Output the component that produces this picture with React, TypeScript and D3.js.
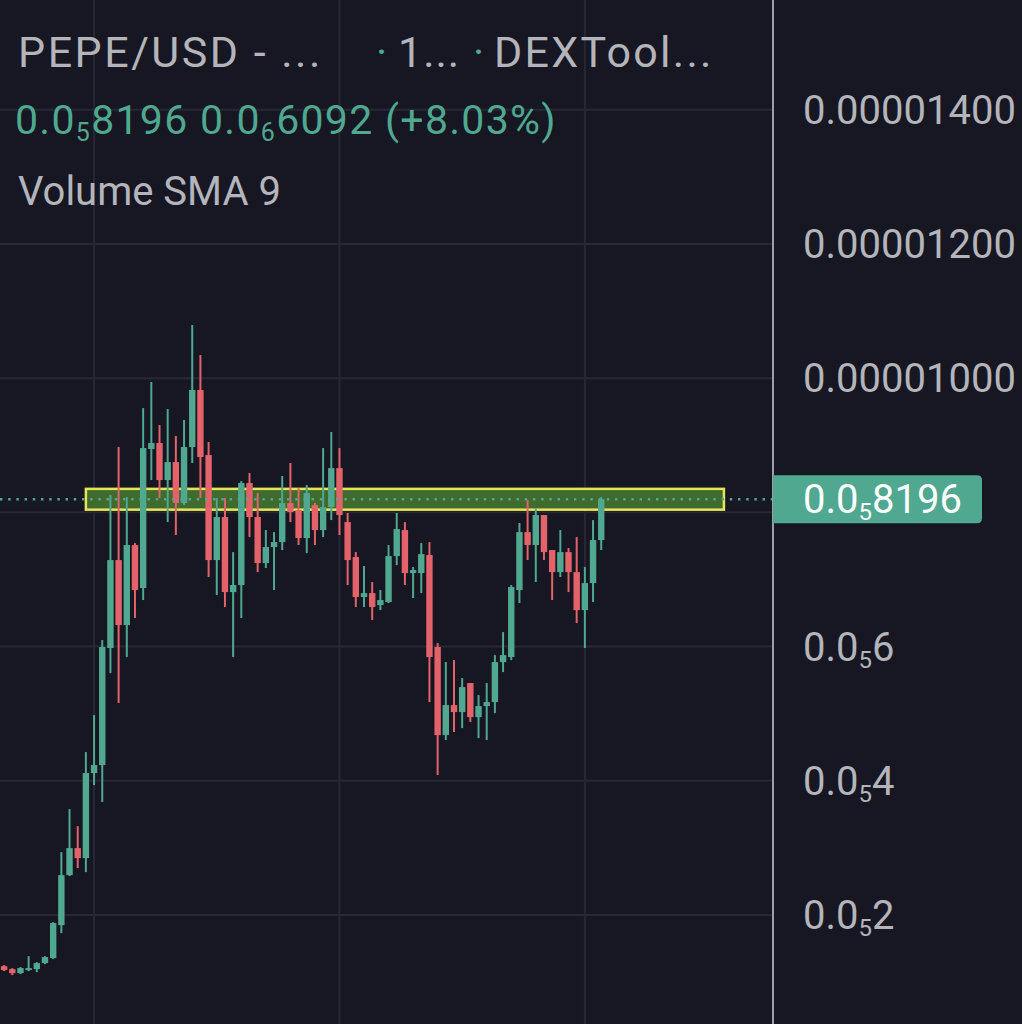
import React from "react";
import * as d3 from "d3";

// prices in millionths of USD (x 1e-6)
const opens = [1.238,1.194,1.134,1.179,1.194,1.283,1.358,1.849,2.595,2.997,2.848,4.115,4.234,5.978,7.289,6.320,7.513,6.872,8.943,9.033,8.481,8.749,8.139,8.973,9.823,8.854,7.289,7.930,6.812,6.917,8.437,7.930,7.244,7.483,7.557,8.139,8.034,7.617,8.109,7.736,8.079,8.660,7.855,7.334,6.738,6.797,6.618,6.663,7.349,7.736,7.095,7.095,7.364,5.993,4.681,5.128,5.024,5.456,4.949,5.113,5.173,5.769,5.844,6.842,7.706,7.513,7.960,7.438,7.110,7.408,7.110,6.543,6.946,7.587];
const closes = [1.179,1.134,1.209,1.209,1.283,1.373,1.879,2.595,2.997,2.848,4.115,4.234,5.993,7.289,6.320,7.513,6.842,8.958,9.033,8.481,8.749,8.139,8.973,9.823,8.824,7.289,7.930,6.812,6.917,8.437,7.930,7.244,7.483,7.557,8.139,8.004,7.617,8.288,7.736,8.079,8.660,7.960,7.289,6.738,6.797,6.589,6.693,7.349,7.751,7.095,7.140,7.378,5.844,4.681,5.128,5.024,5.396,4.949,5.113,5.173,5.769,5.873,6.887,7.706,7.513,7.960,7.408,7.110,7.408,7.110,6.543,6.946,7.587,8.196];
const highs = [1.253,1.209,1.224,1.387,1.298,1.387,1.894,2.937,3.578,3.325,4.428,4.979,6.097,8.258,8.973,8.228,7.542,9.554,9.942,9.301,9.539,9.137,9.376,10.791,10.344,9.048,8.213,8.213,7.408,8.466,8.586,8.288,7.736,7.706,8.541,8.735,8.362,8.407,8.139,8.958,9.197,8.958,7.990,7.408,7.200,6.961,6.842,7.513,7.990,7.855,7.185,7.542,7.557,6.052,5.769,5.799,5.531,5.456,5.277,5.456,5.873,6.216,6.917,7.841,8.183,8.064,7.960,7.438,7.736,7.468,7.632,7.185,7.885,8.228];
const lows = [1.164,1.104,1.119,1.164,1.149,1.268,1.343,1.730,2.580,2.699,2.639,3.936,3.683,5.605,5.158,5.844,6.425,6.693,8.481,8.213,7.855,7.662,8.109,8.735,8.213,7.036,6.768,6.589,5.844,6.425,7.632,7.110,7.170,6.842,7.438,7.855,7.513,7.393,7.513,7.632,7.885,7.662,6.917,6.589,6.589,6.395,6.544,6.648,7.214,6.917,6.723,6.797,5.173,4.085,4.607,4.726,4.785,4.875,4.636,4.607,5.009,5.620,5.799,6.648,7.289,6.961,7.289,6.693,7.036,6.812,6.350,5.978,6.663,7.438];

const gridPrices = [2, 4, 6, 8, 10, 12, 14];
const tickLabels = [
  { v: 14, main: "0.00001400", sub: "", rest: "" },
  { v: 12, main: "0.00001200", sub: "", rest: "" },
  { v: 10, main: "0.00001000", sub: "", rest: "" },
  { v: 6, main: "0.0", sub: "5", rest: "6" },
  { v: 4, main: "0.0", sub: "5", rest: "4" },
  { v: 2, main: "0.0", sub: "5", rest: "2" },
];
const timeGridIdx = [11, 41, 71];
const lastPrice = 8.196;
const zone = { from: 8.04, to: 8.35, startIdx: 10, endIdx: 88 };

const BG = "#161722";
const UP = "#4fa88f";
const DOWN = "#e4626a";
const GRID = "#272834";
const TXT = "#b4b5bb";
const FONT = "Roboto, 'Noto Sans', sans-serif";

export default function App() {
  const W = 1022, H = 1024;
  const axisX = 773;
  const n = opens.length;
  const step = 8.18;
  const x = d3.scaleLinear().domain([0, n - 1]).range([4.09, 4.09 + step * (n - 1)]);
  const bw = 6.4;
  const y = d3.scaleLinear().domain([2, 14]).range([915, 109.7]);
  const yl = y(lastPrice);

  return (
    <svg width={W} height={H} style={{ position: "absolute", left: 0, top: 0, background: BG }} fontFamily={FONT}>
      <rect x={0} y={0} width={W} height={H} fill={BG} />
      {/* grid */}
      {gridPrices.map((p) => (
        <line key={"h" + p} x1={0} x2={axisX} y1={y(p)} y2={y(p)} stroke={GRID} strokeWidth={2} />
      ))}
      {timeGridIdx.map((i) => (
        <line key={"v" + i} x1={x(i)} x2={x(i)} y1={0} y2={H} stroke={GRID} strokeWidth={2} />
      ))}
      {/* zone */}
      <rect x={x(zone.startIdx)} y={y(zone.to)} width={x(zone.endIdx) - x(zone.startIdx)} height={y(zone.from) - y(zone.to)}
        fill="#3f6b2e" stroke="#e7e45a" strokeWidth={2.5} />
      {/* candles */}
      {opens.map((o, i) => {
        const c = closes[i];
        const col = c >= o ? UP : DOWN;
        const top = y(Math.max(o, c));
        const bot = y(Math.min(o, c));
        const xc = x(i);
        return (
          <g key={i}>
            <line x1={xc} x2={xc} y1={y(highs[i])} y2={y(lows[i])} stroke={col} strokeWidth={2} />
            <rect x={xc - bw / 2} y={top} width={bw} height={Math.max(2, bot - top)} fill={col} />
          </g>
        );
      })}
      {/* last price dotted line */}
      <line x1={0} x2={axisX} y1={yl} y2={yl} stroke={UP} strokeWidth={2.4} strokeDasharray="2.4 5.8" />
      {/* axis separator */}
      <line x1={axisX} x2={axisX} y1={0} y2={H} stroke="#9d9fa7" strokeWidth={2} />
      {/* axis labels */}
      {tickLabels.map((t) => (
        <text key={"t" + t.v} x={803} y={y(t.v) + 14} fill={TXT} fontSize={40}>
          {t.main}
          {t.sub && <tspan fontSize={24} dy={7}>{t.sub}</tspan>}
          {t.rest && <tspan fontSize={40} dy={-7}>{t.rest}</tspan>}
        </text>
      ))}
      {/* last price label */}
      <path d={`M${axisX},${yl - 24} H${977} Q982,${yl - 24} 982,${yl - 19} V${yl + 19} Q982,${yl + 24} ${977},${yl + 24} H${axisX} Z`} fill={UP} />
      <text x={803} y={yl + 14} fill="#ffffff" fontSize={40}>
        0.0<tspan fontSize={24} dy={7}>5</tspan><tspan fontSize={40} dy={-7}>8196</tspan>
      </text>
      {/* header */}
      <text x={18} y={67} fill={TXT} fontSize={43} letterSpacing={2.5}>PEPE/USD - ...</text>
      <text x={376} y={67} fill={UP} fontSize={43}>·</text>
      <text x={398} y={67} fill={TXT} fontSize={43} letterSpacing={1}>1...</text>
      <text x={473} y={67} fill={UP} fontSize={43}>·</text>
      <text x={494} y={67} fill={TXT} fontSize={43} letterSpacing={2.3}>DEXTool...</text>
      <text x={15} y={134} fill={UP} fontSize={41} letterSpacing={1.3}>
        0.0<tspan fontSize={25} dy={7}>5</tspan><tspan fontSize={41} dy={-7}>8196 0.0</tspan><tspan fontSize={25} dy={7}>6</tspan><tspan fontSize={41} dy={-7}>6092 (+8.03%)</tspan>
      </text>
      <text x={18} y={205} fill={TXT} fontSize={40}>Volume SMA 9</text>
    </svg>
  );
}
